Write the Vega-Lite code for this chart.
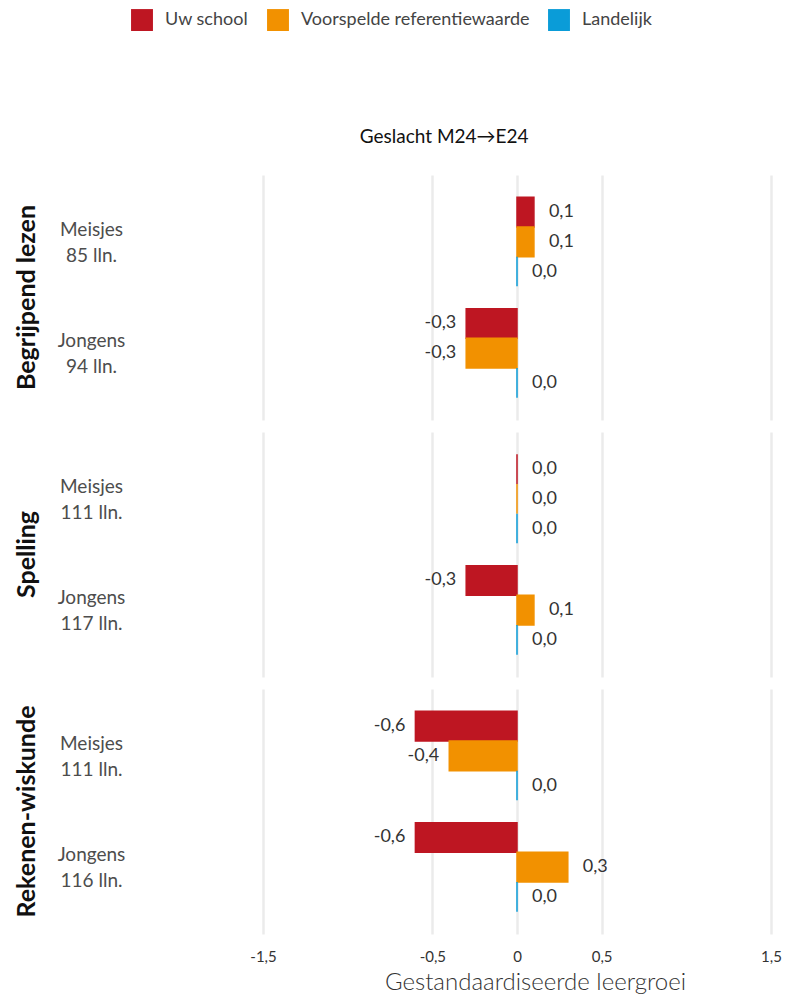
{
  "$schema": "https://vega.github.io/schema/vega-lite/v6.json",
  "padding": {"left": 14, "top": 9, "right": 10, "bottom": 0},
  "title": {"text": "Geslacht M24→E24", "fontSize": 19, "fontWeight": "normal", "font": "Lato", "color": "#111", "anchor": "middle", "offset": -138, "dx": 46},
  "data": {"values": [
    {"vak": "Begrijpend lezen", "groep": "Meisjes|85 lln.", "reeks": "Uw school", "waarde": 0.1},
    {"vak": "Begrijpend lezen", "groep": "Meisjes|85 lln.", "reeks": "Voorspelde referentiewaarde", "waarde": 0.1},
    {"vak": "Begrijpend lezen", "groep": "Meisjes|85 lln.", "reeks": "Landelijk", "waarde": 0.0},
    {"vak": "Begrijpend lezen", "groep": "Jongens|94 lln.", "reeks": "Uw school", "waarde": -0.3},
    {"vak": "Begrijpend lezen", "groep": "Jongens|94 lln.", "reeks": "Voorspelde referentiewaarde", "waarde": -0.3},
    {"vak": "Begrijpend lezen", "groep": "Jongens|94 lln.", "reeks": "Landelijk", "waarde": 0.0},
    {"vak": "Spelling", "groep": "Meisjes|111 lln.", "reeks": "Uw school", "waarde": 0.0},
    {"vak": "Spelling", "groep": "Meisjes|111 lln.", "reeks": "Voorspelde referentiewaarde", "waarde": 0.0},
    {"vak": "Spelling", "groep": "Meisjes|111 lln.", "reeks": "Landelijk", "waarde": 0.0},
    {"vak": "Spelling", "groep": "Jongens|117 lln.", "reeks": "Uw school", "waarde": -0.3},
    {"vak": "Spelling", "groep": "Jongens|117 lln.", "reeks": "Voorspelde referentiewaarde", "waarde": 0.1},
    {"vak": "Spelling", "groep": "Jongens|117 lln.", "reeks": "Landelijk", "waarde": 0.0},
    {"vak": "Rekenen-wiskunde", "groep": "Meisjes|111 lln.", "reeks": "Uw school", "waarde": -0.6},
    {"vak": "Rekenen-wiskunde", "groep": "Meisjes|111 lln.", "reeks": "Voorspelde referentiewaarde", "waarde": -0.4},
    {"vak": "Rekenen-wiskunde", "groep": "Meisjes|111 lln.", "reeks": "Landelijk", "waarde": 0.0},
    {"vak": "Rekenen-wiskunde", "groep": "Jongens|116 lln.", "reeks": "Uw school", "waarde": -0.6},
    {"vak": "Rekenen-wiskunde", "groep": "Jongens|116 lln.", "reeks": "Voorspelde referentiewaarde", "waarde": 0.3},
    {"vak": "Rekenen-wiskunde", "groep": "Jongens|116 lln.", "reeks": "Landelijk", "waarde": 0.0}
  ]},
  "facet": {"row": {"field": "vak", "type": "nominal", "sort": ["Begrijpend lezen", "Spelling", "Rekenen-wiskunde"],
    "header": {"title": null, "labelAngle": -90, "labelOrient": "left", "labelFontSize": 25, "labelFontWeight": "bold", "labelFont": "Lato", "labelColor": "#111", "labelPadding": 5}}},
  "spacing": {"row": 12},
  "resolve": {"scale": {"y": "independent", "yOffset": "independent"}},
  "spec": {
    "width": 508,
    "height": 245,
    "encoding": {
      "x": {"field": "waarde", "type": "quantitative", "scale": {"domain": [-1.5, 1.5], "nice": false},
        "axis": {"values": [-1.5, -0.5, 0, 0.5, 1.5], "format": ".1~f", "grid": true, "gridColor": "#EBEBEB", "gridWidth": 2.5, "domain": false, "ticks": false, "labelFlush": false,
          "labelFontSize": 15, "labelFont": "Lato", "labelColor": "#333", "labelPadding": 15,
          "title": "Gestandaardiseerde leergroei", "titleFontSize": 24, "titleFontWeight": 300, "titleFont": "Lato", "titleColor": "#333", "titlePadding": 6, "titleX": 272}},
      "y": {"field": "groep", "type": "nominal", "sort": "descending", "scale": {"paddingInner": 0.2, "paddingOuter": 0.2},
        "axis": {"title": null, "domain": false, "ticks": false, "grid": false, "labelExpr": "split(datum.label, '|')", "labelAlign": "center", "labelPadding": 172, "labelOffset": -12,
          "labelFontSize": 19, "labelFont": "Lato", "labelColor": "#4d4d4d", "labelLineHeight": 26}},
      "yOffset": {"field": "reeks", "type": "nominal", "sort": ["Uw school", "Voorspelde referentiewaarde", "Landelijk"], "scale": {"paddingInner": 0, "paddingOuter": 0}}
    },
    "layer": [
      {"mark": {"type": "bar", "strokeWidth": 1.5},
       "encoding": {
         "color": {"field": "reeks", "type": "nominal", "sort": ["Uw school", "Voorspelde referentiewaarde", "Landelijk"],
           "scale": {"domain": ["Uw school", "Voorspelde referentiewaarde", "Landelijk"], "range": ["#BE1622", "#F29100", "#0A9CD8"]},
           "legend": {"orient": "none", "direction": "horizontal", "legendX": -132, "legendY": -166, "title": null, "symbolType": "square", "symbolSize": 480, "symbolStrokeWidth": 0,
             "labelFontSize": 18, "labelFont": "Lato", "labelColor": "#444", "labelOffset": 12, "columnPadding": 18, "labelLimit": 0}},
         "stroke": {"field": "reeks", "type": "nominal",
           "scale": {"domain": ["Uw school", "Voorspelde referentiewaarde", "Landelijk"], "range": ["#BE1622", "#F29100", "#0A9CD8"]}, "legend": null}
       }},
      {"transform": [{"filter": "datum.waarde >= 0"}],
       "mark": {"type": "text", "align": "left", "baseline": "middle", "dx": 15, "fontSize": 18, "font": "Lato", "color": "#333"},
       "encoding": {"text": {"field": "waarde", "type": "quantitative", "format": ".1f"}}},
      {"transform": [{"filter": "datum.waarde < 0"}],
       "mark": {"type": "text", "align": "right", "baseline": "middle", "dx": -10, "fontSize": 18, "font": "Lato", "color": "#333"},
       "encoding": {"text": {"field": "waarde", "type": "quantitative", "format": ".1f"}}}
    ]
  },
  "config": {
    "view": {"stroke": null},
    "locale": {"number": {"decimal": ",", "thousands": ".", "grouping": [3], "currency": ["€", ""], "minus": "-"}}
  }
}
